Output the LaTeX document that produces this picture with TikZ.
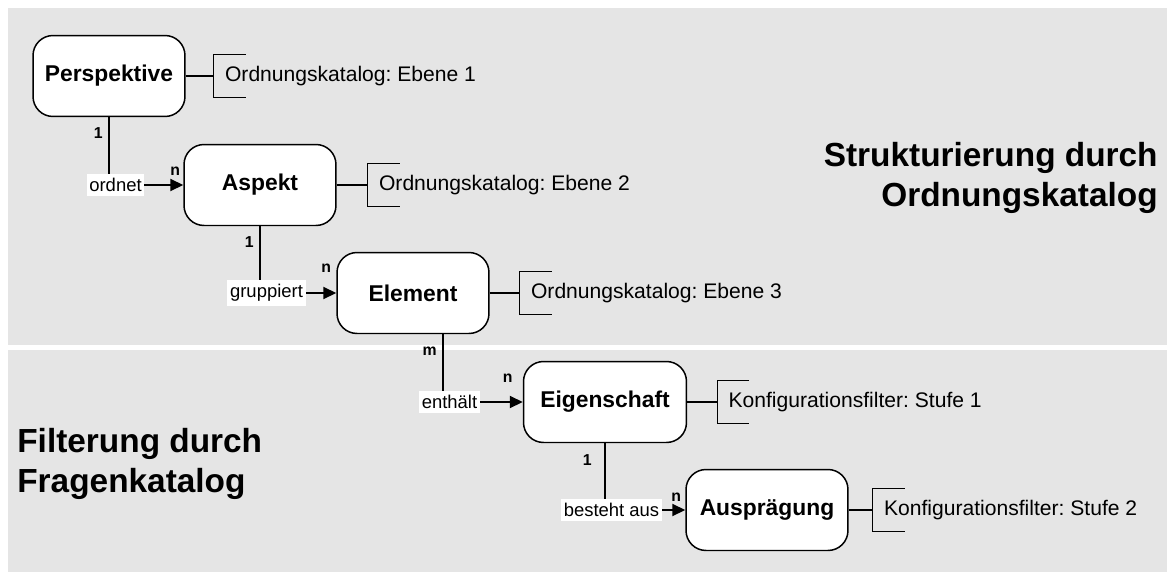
\documentclass[tikz,border=0pt]{standalone}
\usepackage{fontspec}
\setmainfont{Liberation Sans}
\frenchspacing
\usetikzlibrary{positioning, arrows.meta}
\definecolor{panelgray}{RGB}{229,229,229}

\begin{document}
\begin{tikzpicture}[x=0.02cm, y=-0.02cm]
        \tikzstyle{entity} = [rectangle, rounded corners=0.4cm, draw=black, line width=0.85pt, fill=white, minimum width=3.04cm, minimum height=1.62cm, inner xsep=0.1cm, font=\fontsize{13}{15}\selectfont\bfseries];
        \tikzstyle{relation} = [draw=black, line width=1.1pt, -{Triangle[length=0.26cm, width=0.24cm]}];
        \tikzstyle{rellabel} = [fill=white, inner xsep=1.5pt, inner ysep=2.5pt, xshift=0.13cm, font=\fontsize{10.5}{12}\selectfont];
        \tikzstyle{card} = [inner sep=0pt, font=\fontsize{9}{10}\selectfont\bfseries];
        \tikzstyle{catalog} = [inner sep=0pt, inner xsep=0.22cm, minimum height=0.86cm, font=\fontsize{12}{14}\selectfont];
        \tikzstyle{bracket} = [draw=black, line width=0.6pt];
        \tikzstyle{section} = [inner sep=0pt, font=\fontsize{19}{22.8}\selectfont\bfseries];

        % panels
        \useasboundingbox (0,0) rectangle (1167,572);
        \fill[panelgray] (8,8) rectangle (1167,345);
        \fill[panelgray] (8,350) rectangle (1167,572);

        \node(ordtitle) [section, align=right, anchor=north east] at (1158,142) {Strukturierung durch\\Ordnungskatalog};
        \node(fragtitle) [section, align=left, anchor=north west] at (17,428) {Filterung durch\\Fragenkatalog};

        % entities
        \node(persp) [entity] at (109,76) {Perspektive};
        \node(aspekt) [entity] at (260,185) {Aspekt};
        \node(element) [entity] at (413,293) {Element};
        \node(eigen) [entity, minimum width=3.26cm] at (605,402) {Eigenschaft};
        \node(auspr) [entity, minimum width=3.24cm] at (767,510) {Ausprägung};
        \coordinate(element-out) at ([xshift=0.6cm]element.south);

        % relations
        \draw[relation] (persp.south) |- node(ordnet) [rellabel] {ordnet} (aspekt.west);
        \draw[relation] (aspekt.south) |- node(gruppiert) [rellabel] {gruppiert} (element.west);
        \draw[relation] (element-out) |- node(enthaelt) [rellabel] {enthält} (eigen.west);
        \draw[relation] (eigen.south) |- node(bestehtaus) [rellabel] {besteht aus} (auspr.west);

        \node(persp-1) [card, below left=0.2cm and 0.12cm of persp.south] {1};
        \node(aspekt-n) [card, above left=0.18cm and 0.06cm of aspekt.west] {n};
        \node(aspekt-1) [card, below left=0.2cm and 0.12cm of aspekt.south] {1};
        \node(element-n) [card, above left=0.4cm and 0.1cm of element.west] {n};
        \node(element-m) [card, below left=0.24cm and 0.12cm of element-out] {m};
        \node(eigen-n) [card, above left=0.38cm and 0.2cm of eigen.west] {n};
        \node(eigen-1) [card, below left=0.22cm and 0.26cm of eigen.south] {1};
        \node(auspr-n) [card, above left=0.16cm and 0.08cm of auspr.west] {n};

        % catalog levels
        \node(persp-cat) [catalog, right=0.56cm of persp] {Ordnungskatalog: Ebene 1};
        \node(aspekt-cat) [catalog, right=0.62cm of aspekt] {Ordnungskatalog: Ebene 2};
        \node(element-cat) [catalog, right=0.6cm of element] {Ordnungskatalog: Ebene 3};
        \node(eigen-cat) [catalog, right=0.6cm of eigen] {Konfigurationsfilter: Stufe 1};
        \node(auspr-cat) [catalog, right=0.48cm of auspr] {Konfigurationsfilter: Stufe 2};

        \foreach \ent in {persp, aspekt, element, eigen, auspr} {
            \draw[bracket] (\ent.east) -- (\ent-cat.west);
            \draw[bracket] ([xshift=0.64cm]\ent-cat.north west) -- (\ent-cat.north west) -- (\ent-cat.south west) -- ([xshift=0.64cm]\ent-cat.south west);
        }

    \end{tikzpicture}
\end{document}
